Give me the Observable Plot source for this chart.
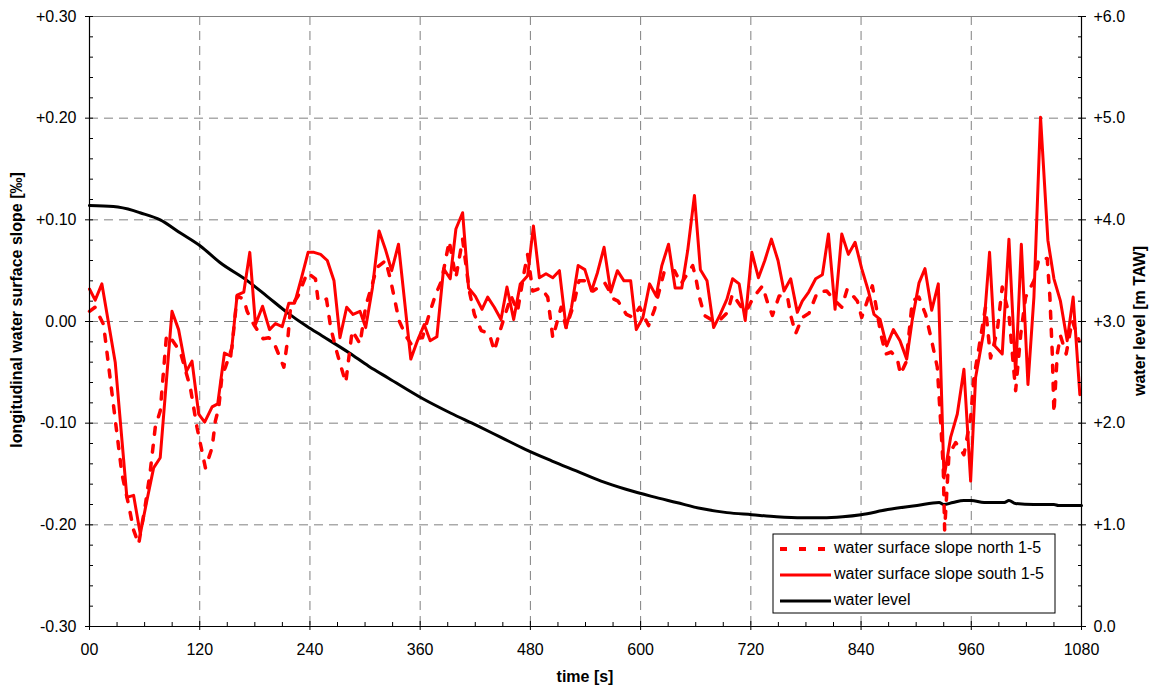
<!DOCTYPE html>
<html><head><meta charset="utf-8">
<script src="https://cdn.jsdelivr.net/npm/d3@7"></script>
<script src="https://cdn.jsdelivr.net/npm/@observablehq/plot@0.6"></script>
<style>body{margin:0;background:#fff}#chart{width:1156px;height:689px}</style>
</head><body><div id="chart"></div>
<script>
// ---- data ----
const tSouth = [0,6.2,13.5,28,40.7,48,55.3,62.5,69.8,77,89.8,97,105.5,111.6,118.9,125.4,133.5,139.6,146.9,154,160.7,168,174.5,180.7,188.4,196,202.5,209.8,217,223.3,230.5,238,244.4,251.6,258.9,266.2,272.7,280,286.9,294.5,300.7,308,315.3,322.5,329,336.4,349.8,357,364.4,370.9,378.2,385.5,392.7,398.9,406.2,412.7,420,427.3,433.5,440.7,448,454.5,461.8,469,477,483.3,489.8,497,504.4,511.6,518.9,524.8,532,539.3,546.5,553,560.2,567.5,574.7,581.9,589.2,595.3,602.5,609.8,617,623.1,630.4,637.6,644.8,651.3,658.6,665.1,672.3,679.5,686.7,694,700.1,707.3,713.9,721.1,728.3,735.2,742.4,749.6,756.1,763.4,770.6,776,783,790.6,797.9,804.5,811.7,819,826.2,833.5,840.7,848,854.1,860.7,867.9,875.2,882.4,889.7,895.8,903.1,909.6,916.9,924.1,930.3,937.5,944.8,952,959.3,964.7,973,979.9,985.7,993.7,1001,1008.3,1014.5,1021.7,1028.2,1035.4,1043.4,1050,1057.1,1064.4,1070.9,1078.2];
const south = [0.032,0.021,0.037,-0.040,-0.173,-0.171,-0.209,-0.176,-0.144,-0.134,0.010,-0.008,-0.049,-0.039,-0.091,-0.099,-0.084,-0.081,-0.031,-0.034,0.026,0.029,0.068,-0.003,0.015,-0.008,-0.002,-0.005,0.018,0.018,0.042,0.068,0.068,0.066,0.060,0.040,-0.016,0.014,0.007,0.010,-0.006,0.033,0.089,0.070,0.050,0.076,-0.037,-0.019,-0.003,-0.019,-0.015,0.052,0.042,0.091,0.107,0.033,0.025,0.012,0.024,0.014,0.002,0.034,0.002,0.037,0.045,0.094,0.043,0.047,0.043,0.050,-0.006,0.014,0.055,0.051,0.030,0.048,0.073,0.029,0.050,0.040,0.040,-0.008,0.004,0.037,0.025,0.055,0.076,0.033,0.033,0.070,0.124,0.051,0.040,-0.006,0.007,0.022,0.042,0.037,0.001,0.068,0.043,0.060,0.081,0.060,0.030,0.042,0.009,0.020,0.029,0.042,0.046,0.086,0.012,0.086,0.066,0.078,0.052,0.030,0.007,0.002,-0.024,-0.008,-0.019,-0.037,0.002,0.038,0.052,0.011,0.037,-0.154,-0.114,-0.091,-0.047,-0.157,-0.055,-0.013,0.068,-0.024,-0.032,0.081,-0.052,0.076,-0.062,0.024,0.201,0.080,0.042,0.020,-0.019,0.024,-0.072];

const tNorth = [0,6,15.3,35.3,42.5,48,53.5,60.7,66.2,71.6,77,83.6,86,98.9,109.8,117,126.2,133.5,137,140.7,144.4,148,155,160.7,168,171.6,178.9,189,195,200,211.6,216,218.9,227,237,246,248.7,251.6,258,262.6,268,273,279,286,294.5,300.7,308,312.7,322.5,328,337,344.3,350,357,362.5,369.8,377,383.3,391.6,398.9,406.2,413.5,419,426.5,435.3,440.7,446,451.6,459,466,473.5,477,482.5,491.6,498.9,504.4,513.5,518.9,526.6,533,541,548.2,560.9,571,575.4,584.5,591.7,599,608.7,615.2,626,637,644,656.7,660.3,664,669.4,678.4,685.7,694.7,700,709,715,722.9,732.7,738.1,743.5,750.8,759.8,763.4,768.8,776,783.3,792.5,802.6,812,819,825,836,840.7,852.3,856,861.4,866.8,873,879.5,883,889,895.8,903,910.3,916.9,923,926.6,929.5,931,935.7,943,952,959.3,962.9,968.3,975.5,981,988.3,993.7,1001,1006.4,1008.3,1013.8,1019.2,1028.2,1033.7,1042.7,1045.6,1048.2,1050,1053.6,1057.1,1063.3,1069.9,1077.3];
const north = [0.010,0.014,-0.003,-0.150,-0.180,-0.205,-0.219,-0.181,-0.147,-0.104,-0.088,-0.016,-0.013,-0.030,-0.065,-0.104,-0.144,-0.124,-0.098,-0.085,-0.052,-0.045,-0.026,0.025,0.022,0.010,-0.003,-0.017,-0.016,-0.019,-0.045,-0.016,0.014,0.025,0.048,0.042,0.022,0.019,0.022,-0.006,-0.026,-0.042,-0.060,-0.009,-0.022,0.015,0.037,0.053,0.060,0.040,0.001,-0.014,-0.022,-0.016,-0.016,0.007,0.027,0.040,0.079,0.043,0.081,0.030,0.007,-0.009,-0.012,-0.029,-0.012,0.004,0.025,0.010,0.050,0.066,0.030,0.033,0.024,-0.016,0.014,-0.006,0.015,0.040,0.040,0.030,0.038,0.022,0.020,0.007,0.004,0.014,-0.004,0.012,0.050,0.050,0.037,0.055,0.042,0.024,0.006,0.001,0.001,0.009,0.027,0.015,0.010,0.024,0.035,0.019,0.006,0.025,0.025,0.006,-0.012,0.004,0.008,0.029,0.030,0.020,0.014,0.032,0.020,0.004,0.035,0.017,-0.012,-0.032,-0.030,-0.037,-0.052,-0.040,0.020,0.024,0.007,-0.019,-0.045,-0.098,-0.144,-0.205,-0.131,-0.119,-0.131,-0.095,-0.055,-0.026,0.014,-0.036,-0.009,0.034,0.007,-0.049,-0.068,-0.013,0.024,0.040,0.062,0.062,0.024,-0.032,-0.090,-0.032,-0.014,-0.032,0.001,-0.019];

const tLevel = [0,26,48,55,77,99,121,142,172,193,215,237,253,283,304,326,363,393,421,448,475,503,530,557,584,612,639,666,694,721,748,776,798,820,840,869,901,925,930,940,952,960,974,996,1001,1008,1028,1050,1055,1080];
const level  = [4.14,4.13,4.09,4.07,4.00,3.87,3.74,3.58,3.40,3.25,3.09,2.95,2.86,2.69,2.56,2.44,2.24,2.10,1.98,1.86,1.74,1.63,1.53,1.43,1.35,1.28,1.22,1.16,1.12,1.10,1.08,1.07,1.07,1.08,1.10,1.15,1.19,1.22,1.20,1.22,1.24,1.24,1.22,1.22,1.24,1.21,1.20,1.20,1.19,1.19];

const xTicks = [0,120,240,360,480,600,720,840,960,1080];
const xTickLabels = ["00","120","240","360","480","600","720","840","960","1080"];
const yTicks = [-0.3,-0.2,-0.1,0,0.1,0.2,0.3];
const yTickLabels = ["-0.30","-0.20","-0.10","0.00","+0.10","+0.20","+0.30"];
const levelTicks = [0,1,2,3,4,5,6];
const levelTickLabels = ["0.0","+1.0","+2.0","+3.0","+4.0","+5.0","+6.0"];

const seriesNames = ["water surface slope north 1-5","water surface slope south 1-5","water level"];

// ---- build tables ----
const southData = tSouth.map((t,i)=>({t, v: south[i]}));
const northData = tNorth.map((t,i)=>({t, v: north[i]}));
const toY = w => (w - 3) / 10;           // right axis (m TAW) -> left axis units
const levelData = tLevel.map((t,i)=>({t, v: toY(level[i])}));
const rTicks = levelTicks.map(toY);
const xMinor = d3.range(0, 1081, 30).filter(d => d % 120 !== 0);
const yMinor = d3.range(-15, 16).map(d => d/50).filter((d,i) => (i % 5) !== 0);

const FONT = "'Liberation Sans', Arial, Helvetica, sans-serif";
const gridStyle = {stroke:"#808080", strokeOpacity:1, strokeWidth:1, strokeDasharray:"9,6"};
const noText = () => "";

const plot = Plot.plot({
  width: 1156, height: 689,
  marginLeft: 89, marginRight: 75, marginTop: 16, marginBottom: 63,
  x: {domain: [0, 1080]},
  y: {domain: [-0.3, 0.3]},
  style: {fontFamily: FONT, fontSize: "16px", color: "#000", background: "#fff", overflow: "visible"},
  marks: [
    Plot.gridX(xTicks.slice(1, -1), gridStyle),
    Plot.gridY(yTicks.slice(1, -1), gridStyle),
    Plot.ruleY([0.3], {stroke: "#808080", strokeWidth: 1}),
    Plot.line(levelData, {x: "t", y: "v", stroke: "#000", strokeWidth: 3, curve: "monotone-x"}),
    Plot.line(northData, {x: "t", y: "v", stroke: "#ff0000", strokeWidth: 3.5, strokeDasharray: "7,11"}),
    Plot.line(southData, {x: "t", y: "v", stroke: "#ff0000", strokeWidth: 3}),
    // axis lines
    Plot.ruleX([0], {stroke: "#000", strokeWidth: 1.2}),
    Plot.ruleX([1080], {stroke: "#000", strokeWidth: 1.2}),
    Plot.ruleY([-0.3], {stroke: "#000", strokeWidth: 1.2}),
    // left axis
    Plot.axisY(yTicks, {anchor: "left", tickSize: 4, tickPadding: 9, fontSize: 16, label: null,
      tickFormat: d => yTickLabels[yTicks.indexOf(d)]}),
    Plot.axisY(yTicks, {anchor: "left", tickSize: -4, label: null, tickFormat: noText}),
    Plot.axisY(yMinor, {anchor: "left", tickSize: -4, label: null, tickFormat: noText}),
    // right axis
    Plot.axisY(rTicks, {anchor: "right", tickSize: 4, tickPadding: 8, fontSize: 16, label: null,
      tickFormat: d => levelTickLabels[rTicks.indexOf(d)]}),
    Plot.axisY(rTicks, {anchor: "right", tickSize: -4, label: null, tickFormat: noText}),
    Plot.axisY(yMinor, {anchor: "right", tickSize: -4, label: null, tickFormat: noText}),
    // bottom axis
    Plot.axisX(xTicks, {anchor: "bottom", tickSize: 4, tickPadding: 13, fontSize: 16, label: null,
      tickFormat: d => xTickLabels[xTicks.indexOf(d)]}),
    Plot.axisX(xTicks, {anchor: "bottom", tickSize: -5, label: null, tickFormat: noText}),
    Plot.axisX(xMinor, {anchor: "bottom", tickSize: -4, label: null, tickFormat: noText})
  ]
});

const svg = d3.select(plot);
// axis titles
const title = (sel) => sel.attr("text-anchor", "middle").attr("dominant-baseline", "middle")
  .attr("font-family", FONT).attr("font-size", 16).attr("font-weight", "bold").attr("fill", "#000");
svg.append("text").attr("transform", "translate(18,310) rotate(-90)").call(title)
  .text("longitudinal water surface slope [‰]");
svg.append("text").attr("transform", "translate(1141,321) rotate(-90)").call(title)
  .text("water level [m TAW]");
svg.append("text").attr("x", 585).attr("y", 678).call(title).text("time [s]");

// legend
const lg = svg.append("g").attr("transform", "translate(773,534)");
lg.append("rect").attr("width", 282).attr("height", 79).attr("fill", "#fff")
  .attr("stroke", "#000").attr("stroke-width", 1);
const styles = [
  {stroke: "#ff0000", dash: "7,12", w: 4},
  {stroke: "#ff0000", dash: null, w: 3},
  {stroke: "#000", dash: null, w: 3}
];
seriesNames.forEach((name, i) => {
  const y = 15 + i * 26;
  const l = lg.append("line").attr("x1", 7).attr("x2", 58).attr("y1", y).attr("y2", y)
    .attr("stroke", styles[i].stroke).attr("stroke-width", styles[i].w);
  if (styles[i].dash) l.attr("stroke-dasharray", styles[i].dash);
  lg.append("text").attr("x", 61).attr("y", y).attr("dominant-baseline", "middle")
    .attr("text-anchor", "start").attr("fill", "#000")
    .attr("font-family", FONT).attr("font-size", 16).text(name);
});

document.getElementById("chart").appendChild(plot);
</script>
</body></html>
